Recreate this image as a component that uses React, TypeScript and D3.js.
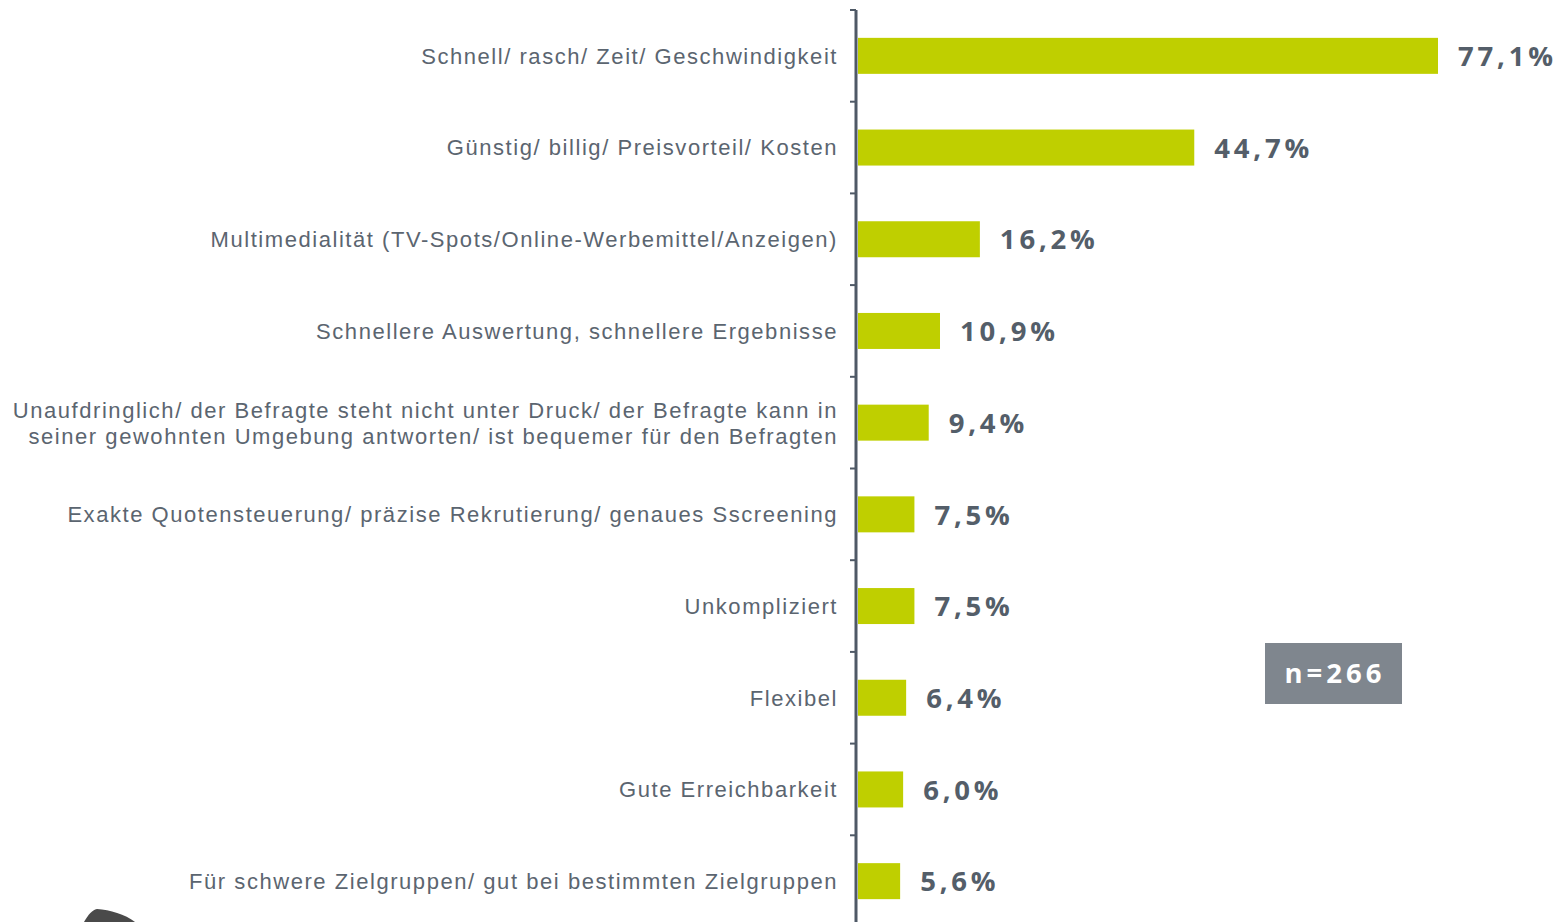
import React from "react";
import * as d3 from "d3";

const categories = [
  ["Schnell/ rasch/ Zeit/ Geschwindigkeit"],
  ["Günstig/ billig/ Preisvorteil/ Kosten"],
  ["Multimedialität (TV-Spots/Online-Werbemittel/Anzeigen)"],
  ["Schnellere Auswertung, schnellere Ergebnisse"],
  [
    "Unaufdringlich/ der Befragte steht nicht unter Druck/ der Befragte kann in",
    "seiner gewohnten Umgebung antworten/ ist bequemer für den Befragten",
  ],
  ["Exakte Quotensteuerung/ präzise Rekrutierung/ genaues Sscreening"],
  ["Unkompliziert"],
  ["Flexibel"],
  ["Gute Erreichbarkeit"],
  ["Für schwere Zielgruppen/ gut bei bestimmten Zielgruppen"],
];
const values = [77.1, 44.7, 16.2, 10.9, 9.4, 7.5, 7.5, 6.4, 6.0, 5.6];
const sampleLabel = "n=266";

const W = 1560;
const H = 922;
const axisX = 856;
const top = 10;
const step = 91.7;

const BAR = "#bfcf00";
const TEXT = "#5b6570";
const VALUE = "#545e69";
const AXIS = "#4f5966";

export default function App() {
  const keys = categories.map((_, i) => String(i));
  const y = d3
    .scaleBand<string>()
    .domain(keys)
    .range([top, top + step * keys.length])
    .padding(0);
  const bw = y.bandwidth();
  const barH = 36;
  const x = d3.scaleLinear().domain([0, 77.1]).range([axisX + 2, 1438]);
  const fmt = (v: number) => d3.format(".1f")(v).replace(".", ",") + "%";
  const ticks = keys.map((k) => y(k) as number);

  return (
    <svg
      width={W}
      height={H}
      style={{ position: "absolute", left: 0, top: 0, display: "block", background: "#fff" }}
    >
      {/* bars */}
      {values.map((v, i) => {
        const yc = (y(keys[i]) as number) + bw / 2;
        return (
          <g key={i}>
            <rect x={x(0)} y={yc - barH / 2} width={x(v) - x(0)} height={barH} fill={BAR} />
            <text
              x={x(v) + 20}
              y={yc}
              dy="0.37em"
              fontFamily="'Open Sans', sans-serif"
              fontWeight={700}
              fontSize={27.5}
              letterSpacing={3.8}
              fill={VALUE}
            >
              {fmt(v)}
            </text>
            {categories[i].map((line, j) => {
              const n = categories[i].length;
              const off = (j - (n - 1) / 2) * 26;
              return (
                <text
                  key={j}
                  x={838}
                  y={yc + off}
                  dy="0.36em"
                  textAnchor="end"
                  fontFamily="'Liberation Sans', Arial, sans-serif"
                  fontSize={22}
                  letterSpacing={1.55}
                  fill={TEXT}
                >
                  {line}
                </text>
              );
            })}
          </g>
        );
      })}

      {/* axis */}
      <line x1={axisX} x2={axisX} y1={top} y2={H} stroke={AXIS} strokeWidth={3} />
      {ticks.map((t, i) => (
        <line key={i} x1={axisX - 6} x2={axisX} y1={t} y2={t} stroke={AXIS} strokeWidth={2} />
      ))}

      {/* sample size box */}
      <rect x={1265} y={643} width={137} height={61} fill="#7f868e" />
      <text
        x={1335}
        y={673.5}
        dy="0.36em"
        textAnchor="middle"
        fontFamily="'Open Sans', sans-serif"
        fontWeight={700}
        fontSize={27.5}
        letterSpacing={4}
        fill="#ffffff"
      >
        {sampleLabel}
      </text>

      {/* partial logo at bottom edge */}
      <path d="M84,922 C88,915 92,910 97,909 C110,910 125,914 135,922 Z" fill="#4a4a4a" />
    </svg>
  );
}
